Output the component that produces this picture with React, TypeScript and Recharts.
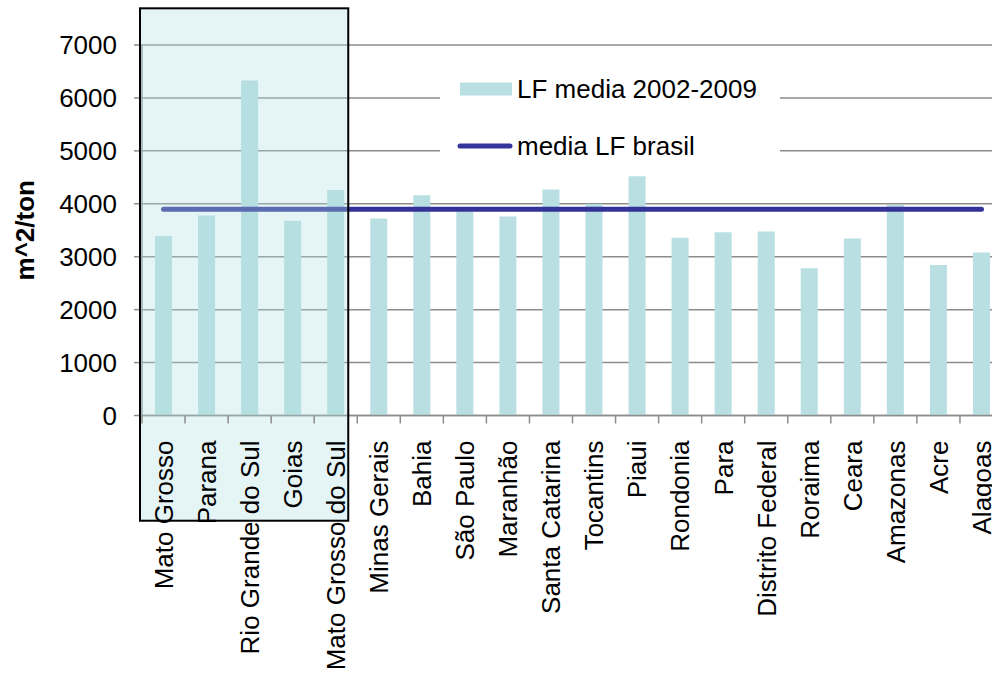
import React from 'react';
import {
  ComposedChart,
  Bar,
  Line,
  XAxis,
  YAxis,
  CartesianGrid,
  Legend,
  ReferenceArea,
} from 'recharts';

const categories = [
  'Mato Grosso',
  'Parana',
  'Rio Grande do Sul',
  'Goias',
  'Mato Grosso do Sul',
  'Minas Gerais',
  'Bahia',
  'São Paulo',
  'Maranhão',
  'Santa Catarina',
  'Tocantins',
  'Piaui',
  'Rondonia',
  'Para',
  'Distrito Federal',
  'Roraima',
  'Ceara',
  'Amazonas',
  'Acre',
  'Alagoas',
];

const lfMedia = [
  3390, 3780, 6330, 3680, 4260, 3720, 4160, 3860, 3760, 4270, 3995, 4520, 3360,
  3460, 3475, 2780, 3345, 3975, 2845, 3080,
];

const mediaBrasil = 3895;

const yTicks = [0, 1000, 2000, 3000, 4000, 5000, 6000, 7000];

const highlightFrom = 'Mato Grosso';
const highlightTo = 'Mato Grosso do Sul';
const highlightLow = -1988;
const highlightHigh = 7693;

const data = categories.map((name, i) => ({
  name,
  lf: lfMedia[i],
  brasil: mediaBrasil,
}));

const FONT = 'Arial, "Liberation Sans", sans-serif';
const BAR_COLOR = '#b9dfe2';
const LINE_COLOR = '#333399';
const AXIS_COLOR = '#8c8c8c';

const CategoryTick = (props: any) => {
  const { x, y, payload, index, visibleTicksCount, width } = props;
  const count = visibleTicksCount || categories.length;
  const bw = Number(width) > 0 ? Number(width) / count : 43.05;
  const ty = y + 25;
  const left = x - bw / 2;
  const right = x + bw / 2;
  return (
    <g>
      <line x1={left} x2={left} y1={y} y2={y + 8} stroke={AXIS_COLOR} strokeWidth={1.5} />
      {index === count - 1 ? (
        <line x1={right} x2={right} y1={y} y2={y + 8} stroke={AXIS_COLOR} strokeWidth={1.5} />
      ) : null}
      <text
        x={x}
        y={ty}
        dy="0.36em"
        transform={`rotate(-90, ${x}, ${ty})`}
        textAnchor="end"
        fontSize={26}
        fontFamily={FONT}
        fill="#000"
        stroke="none"
      >
        {payload.value}
      </text>
    </g>
  );
};

const YTitle = (props: any) => {
  const vb = props.viewBox || {};
  const cy = (vb.y ?? 45) + (vb.height ?? 370) / 2;
  const cx = 25;
  return (
    <text
      x={cx}
      y={cy}
      dy="0.36em"
      transform={`rotate(-90, ${cx}, ${cy})`}
      textAnchor="middle"
      fontSize={26}
      fontWeight="bold"
      fontFamily={FONT}
      fill="#000"
    >
      m^2/ton
    </text>
  );
};

const renderLegend = (props: any) => {
  const payload = props.payload || [];
  return (
    <svg width={340} height={112} style={{ display: 'block' }}>
      {payload.map((entry: any, i: number) => {
        const cy = 31 + i * 57;
        return (
          <g key={i}>
            {entry.type === 'line' ? (
              <line
                x1={20}
                x2={70}
                y1={cy}
                y2={cy}
                stroke={entry.color}
                strokeWidth={5}
                strokeLinecap="round"
              />
            ) : (
              <rect x={20} y={cy - 6.5} width={52} height={13} fill={entry.color} />
            )}
            <text
              x={77}
              y={cy}
              dy="0.36em"
              fontSize={26}
              fontFamily={FONT}
              fill="#000"
            >
              {entry.value}
            </text>
          </g>
        );
      })}
    </svg>
  );
};

const HighlightShape = (props: any) => {
  const { x, y, width, height } = props;
  return (
    <rect
      x={x - 2}
      y={y}
      width={width - 7}
      height={height}
      fill="rgb(176,224,224)"
      fillOpacity={0.33}
      stroke="#000"
      strokeWidth={2}
    />
  );
};

export default function App() {
  return (
    <div
      style={{
        position: 'fixed',
        left: 0,
        top: 0,
        width: 992,
        height: 674,
        overflow: 'hidden',
        background: '#fff',
      }}
    >
      <ComposedChart
        width={1010}
        height={674}
        data={data}
        margin={{ top: 45, right: 7, left: 0, bottom: 0 }}
        style={{ fontFamily: FONT }}
      >
        <CartesianGrid
          vertical={false}
          stroke={AXIS_COLOR}
          strokeWidth={1.5}
        />
        <XAxis
          dataKey="name"
          interval={0}
          height={258.5}
          tickSize={0}
          tickMargin={0}
          axisLine={{ stroke: AXIS_COLOR, strokeWidth: 1.5 }}
          tickLine={false}
          tick={<CategoryTick />}
        />
        <YAxis
          width={142}
          domain={[0, 7000]}
          ticks={yTicks}
          interval={0}
          tickSize={8}
          tickMargin={17}
          axisLine={{ stroke: AXIS_COLOR, strokeWidth: 1.5 }}
          tickLine={{ stroke: AXIS_COLOR, strokeWidth: 1.5 }}
          tick={{ fontSize: 26, fill: '#000', fontFamily: FONT }}
          label={<YTitle />}
        />
        <Legend
          layout="vertical"
          align="center"
          verticalAlign="middle"
          content={renderLegend}
          wrapperStyle={{
            position: 'absolute',
            left: 440,
            top: 58,
            width: 340,
            height: 112,
            background: '#fff',
          }}
        />
        <Bar
          dataKey="lf"
          name="LF media 2002-2009"
          fill={BAR_COLOR}
          barSize={17}
          legendType="rect"
          isAnimationActive={false}
        />
        <Line
          dataKey="brasil"
          name="media LF brasil"
          type="linear"
          stroke={LINE_COLOR}
          strokeWidth={5}
          strokeLinecap="round"
          dot={false}
          activeDot={false}
          legendType="line"
          isAnimationActive={false}
        />
        <ReferenceArea
          x1={highlightFrom}
          x2={highlightTo}
          y1={highlightLow}
          y2={highlightHigh}
          ifOverflow="visible"
          shape={<HighlightShape />}
          {...({ zIndex: 1500 } as any)}
        />
      </ComposedChart>
    </div>
  );
}
